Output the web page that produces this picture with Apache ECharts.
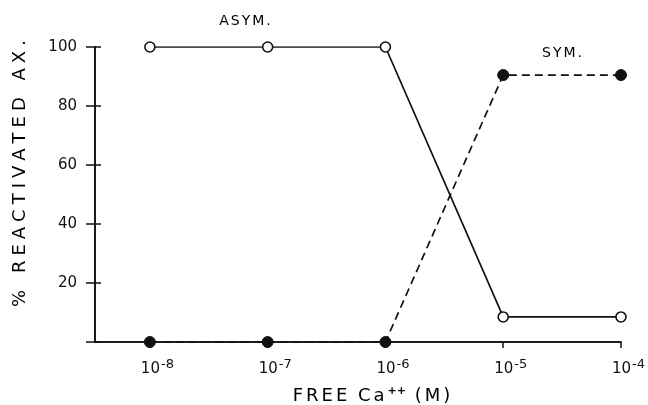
<!DOCTYPE html>
<html><head><meta charset="utf-8">
<script src="https://cdn.jsdelivr.net/npm/echarts@6/dist/echarts.min.js"></script>
<style>html,body{margin:0;padding:0;background:#fff}#c{width:648px;height:405px}</style>
</head><body><div id="c"></div>
<script>
// log10 of free Ca++ concentration (M)
var concExp = [-8, -7, -6, -5, -4];
var asym = [100, 100, 100, 8.5, 8.5];
var sym = [0, 0, 0, 90.5, 90.5];
var yTicks = [20, 40, 60, 80, 100];

var chart = echarts.init(document.getElementById('c'));
var font = 'DejaVu Sans';
var ink = '#111';
// letter-spaced text via rich fragments
function tracked(s, style){
  return s.split('').map(function(ch){ return ch === ' ' ? '{w| }' : '{' + style + '|' + ch + '}'; }).join('');
}
function pairs(v){ return concExp.map(function(x,i){return [x, v[i]];}); }
var xBase = {
  type:'value', min:-8.466, max:-4, splitLine:{show:false},
  axisLine:{lineStyle:{color:ink,width:1.6}},
};
var yBase = {
  type:'value', min:0, max:100, interval:20, splitLine:{show:false},
  axisLine:{lineStyle:{color:ink,width:1.6}},
};
chart.setOption({
  animation:false,
  grid:{left:95,right:26,top:47,bottom:63},
  xAxis:[
    Object.assign({}, xBase, {
      axisTick:{customValues:concExp, length:6, lineStyle:{color:ink,width:1.5}},
      axisLabel:{customValues:concExp, margin:16, color:ink,
        formatter:function(v){return '{b|10}{s|' + Math.round(v) + '}';},
        rich:{b:{fontFamily:font,fontSize:15,color:ink,padding:[0,0,0,15]},
              s:{fontFamily:font,fontSize:13,color:ink,padding:[0,0,10,1]}}}
    }),
    Object.assign({}, xBase, {
      axisTick:{customValues:concExp, inside:true, length:6, lineStyle:{color:ink,width:1.5}},
      axisLabel:{show:false}
    })
  ],
  yAxis:[
    Object.assign({}, yBase, {
      axisTick:{length:9, lineStyle:{color:ink,width:1.5}},
      axisLabel:{margin:18, color:ink, fontFamily:font, fontSize:15,
        formatter:function(v){return v===0?'':String(v);}}
    }),
    Object.assign({}, yBase, {
      position:'left',
      axisTick:{inside:true, length:6, lineStyle:{color:ink,width:1.5}},
      axisLabel:{show:false}
    })
  ],
  series:[
    {type:'line', name:'ASYM.', data:pairs(asym), symbol:'circle', symbolSize:10,
     lineStyle:{color:ink,width:1.7,type:'solid'},
     itemStyle:{color:'#fff',borderColor:ink,borderWidth:1.6}, z:3},
    {type:'line', name:'SYM.', data:pairs(sym), symbol:'circle', symbolSize:11,
     lineStyle:{color:ink,width:1.7,type:[8,5]},
     itemStyle:{color:ink,borderColor:ink,borderWidth:1}, z:4}
  ],
  graphic:[
    {type:'text', x:246, y:21, style:{text:tracked('ASYM.','c'), align:'center', verticalAlign:'middle',
      rich:{c:{fontFamily:font,fontSize:14,color:ink,padding:[0,2,0,0]}}}},
    {type:'text', x:563, y:53, style:{text:tracked('SYM.','c'), align:'center', verticalAlign:'middle',
      rich:{c:{fontFamily:font,fontSize:14,color:ink,padding:[0,2,0,0]}}}},
    {type:'text', x:20, y:171, rotation:Math.PI/2,
     style:{text:tracked('% REACTIVATED AX.','c'), align:'center', verticalAlign:'middle',
      rich:{c:{fontFamily:font,fontSize:18,color:ink,padding:[0,5,0,0]},
            w:{fontFamily:font,fontSize:18,color:ink,padding:[0,6,0,0]}}}},
    {type:'text', x:373, y:396,
     style:{text:tracked('FREE Ca','c') + '{s|++}' + '{w| }' + tracked('(M)','c'),
       align:'center', verticalAlign:'middle',
       rich:{c:{fontFamily:font,fontSize:18,color:ink,padding:[0,3,0,0]},
             w:{fontFamily:font,fontSize:18,color:ink,padding:[0,2,0,0]},
             s:{fontFamily:font,fontSize:11,fontWeight:'bold',color:ink,padding:[0,1,10,0]}}}}
  ]
});
</script></body></html>
